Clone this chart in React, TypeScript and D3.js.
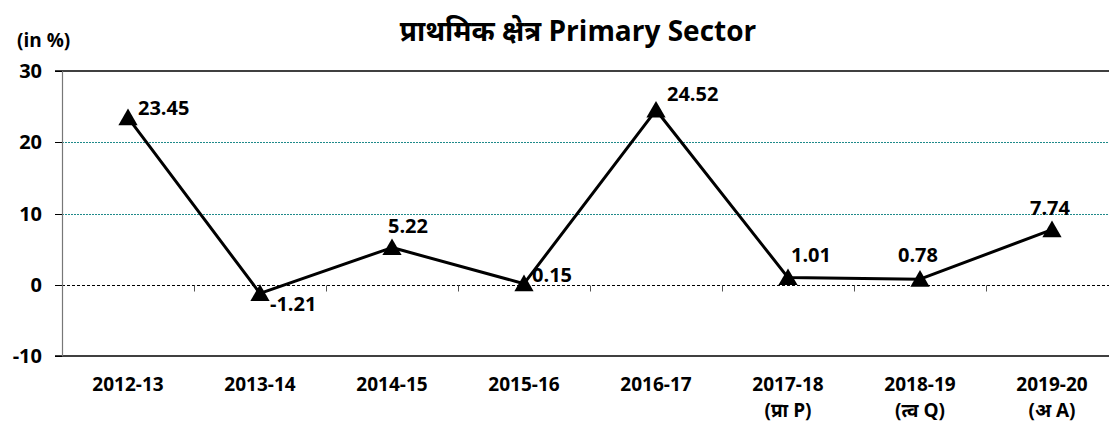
import React from 'react';
import * as d3 from 'd3';

const years = ['2012-13', '2013-14', '2014-15', '2015-16', '2016-17', '2017-18', '2018-19', '2019-20'];
const subLabels = ['', '', '', '', '', '(प्रा P)', '(त्व Q)', '(अ A)'];
const growth = [23.45, -1.21, 5.22, 0.15, 24.52, 1.01, 0.78, 7.74];
const yTicks = [-10, 0, 10, 20, 30];

// label placement relative to each marker (anchor, dx, dy)
const labelPos: [string, number, number][] = [
  ['start', 10, -3],
  ['start', 10, 18],
  ['middle', 16, -15],
  ['start', 8, -2],
  ['start', 11, -9],
  ['middle', 23, -16],
  ['middle', -2, -17],
  ['middle', -2, -15],
];

const W = 1109;
const H = 425;
const font = '"Open Sans", "Noto Sans", "Noto Sans Devanagari", sans-serif';

export default function App() {
  const x = d3.scaleBand().domain(years).range([62, 1118]);
  const y = d3.scaleLinear().domain([-10, 30]).range([356, 71]);
  const cx = (i: number) => (x(years[i]) as number) + x.bandwidth() / 2;
  const crisp = (v: number) => Math.round(y(v)) + 0.5;

  const line = d3.line<number>()
    .x((_, i) => cx(i))
    .y(d => y(d));

  const tri = d3.symbol().type(d3.symbolTriangle).size(160)();

  return (
    <svg width={W} height={H} style={{ position: 'absolute', left: 0, top: 0, background: '#fff' }} fontFamily={font}>
      <text x={578} y={41} textAnchor="middle" fontSize={28} fontWeight="bold">प्राथमिक क्षेत्र  Primary Sector</text>
      <text x={17} y={47} fontSize={19} fontWeight="bold">(in %)</text>

      {/* grid lines */}
      {[10, 20].map(t => (
        <line key={t} x1={62} x2={W} y1={crisp(t)} y2={crisp(t)} stroke="#1f8a8a" strokeWidth={1} strokeDasharray="2,1" />
      ))}
      <line x1={62} x2={W} y1={crisp(0)} y2={crisp(0)} stroke="#000" strokeWidth={1} strokeDasharray="3,2" />
      <line x1={55} x2={W} y1={y(30)} y2={y(30)} stroke="#000" strokeWidth={1.5} />
      <line x1={55} x2={W} y1={y(-10)} y2={y(-10)} stroke="#000" strokeWidth={1.5} />
      <line x1={62.5} x2={62.5} y1={y(30)} y2={y(-10)} stroke="#777" strokeWidth={1.2} />

      {/* y ticks */}
      {yTicks.map(t => (
        <g key={t}>
          <line x1={55} x2={62} y1={crisp(t)} y2={crisp(t)} stroke="#000" strokeWidth={1} />
          <text x={42} y={y(t) + 7} textAnchor="end" fontSize={20} fontWeight="bold">{t}</text>
        </g>
      ))}

      {/* category ticks on zero line */}
      {years.slice(1).map(c => (
        <line key={c} x1={Math.round(x(c) as number) + 0.5} x2={Math.round(x(c) as number) + 0.5}
          y1={crisp(0)} y2={crisp(0) + 6} stroke="#555" strokeWidth={1} />
      ))}

      {/* x labels */}
      {years.map((c, i) => (
        <g key={c}>
          <text x={cx(i)} y={391} textAnchor="middle" fontSize={19} fontWeight="bold">{c}</text>
          {subLabels[i] && (
            <text x={cx(i)} y={417} textAnchor="middle" fontSize={19} fontWeight="bold">{subLabels[i]}</text>
          )}
        </g>
      ))}

      <path d={line(growth) || ''} fill="none" stroke="#000" strokeWidth={3} strokeLinejoin="round" />

      {growth.map((v, i) => (
        <path key={i} d={tri || ''} transform={`translate(${cx(i)},${y(v) + 2})`} fill="#000" />
      ))}

      {growth.map((v, i) => (
        <text key={'l' + i} x={cx(i) + labelPos[i][1]} y={y(v) + labelPos[i][2]} textAnchor={labelPos[i][0]}
          fontSize={20} fontWeight="bold">{v.toFixed(2)}</text>
      ))}
    </svg>
  );
}
